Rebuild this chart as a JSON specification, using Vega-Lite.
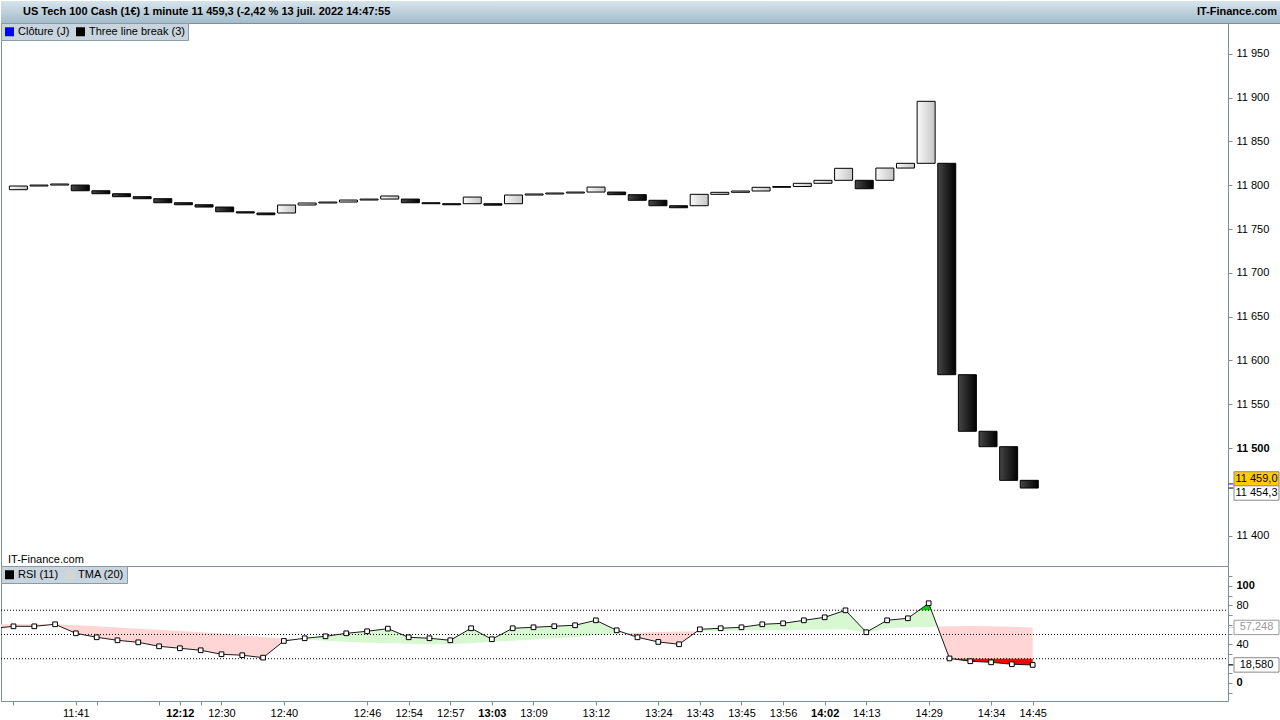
{
  "$schema": "https://vega.github.io/schema/vega-lite/v6.json",
  "padding": 0,
  "background": "#ffffff",
  "spacing": 0,
  "bounds": "flush",
  "config": {
    "font": "Liberation Sans",
    "view": {"stroke": "#7d8f9b", "strokeWidth": 1},
    "axis": {"labelFont": "Liberation Sans", "labelFontSize": 11, "labelColor": "#000000", "domainColor": "#7d8f9b", "tickColor": "#7d8f9b", "grid": false},
    "legend": {"labelFont": "Liberation Sans", "labelFontSize": 11, "labelColor": "#000000"}
  },
  "datasets": {
    "bricks": [
      {"i":1,"open":11794.9,"close":11799.1},{"i":2,"open":11799.1,"close":11800.2},{"i":3,"open":11800.2,"close":11801.4},
      {"i":4,"open":11800.2,"close":11793.7},{"i":5,"open":11793.7,"close":11790.3},{"i":6,"open":11790.3,"close":11786.9},
      {"i":7,"open":11786.9,"close":11784.6},{"i":8,"open":11784.6,"close":11780.0},{"i":9,"open":11780.0,"close":11777.7},
      {"i":10,"open":11777.7,"close":11775.1},{"i":11,"open":11775.1,"close":11769.7},{"i":12,"open":11769.7,"close":11768.3},
      {"i":13,"open":11768.3,"close":11766.3},{"i":14,"open":11768.3,"close":11777.4},{"i":15,"open":11777.4,"close":11779.7},
      {"i":16,"open":11779.7,"close":11780.8},{"i":17,"open":11780.8,"close":11783.1},{"i":18,"open":11783.1,"close":11784.2},
      {"i":19,"open":11784.2,"close":11787.7},{"i":20,"open":11784.2,"close":11780.0},{"i":21,"open":11780.0,"close":11778.9},
      {"i":22,"open":11778.9,"close":11777.7},{"i":23,"open":11778.9,"close":11786.5},{"i":24,"open":11778.9,"close":11777.2},
      {"i":25,"open":11778.9,"close":11788.8},{"i":26,"open":11788.8,"close":11790.0},{"i":27,"open":11790.0,"close":11791.1},
      {"i":28,"open":11791.1,"close":11792.2},{"i":29,"open":11792.2,"close":11797.9},{"i":30,"open":11792.2,"close":11789.2},
      {"i":31,"open":11789.2,"close":11782.8},{"i":32,"open":11782.8,"close":11776.6},{"i":33,"open":11776.6,"close":11774.3},
      {"i":34,"open":11776.6,"close":11789.6},{"i":35,"open":11789.6,"close":11791.9},{"i":36,"open":11791.9,"close":11793.4},
      {"i":37,"open":11793.4,"close":11797.6},{"i":38,"open":11797.6,"close":11798.5},{"i":39,"open":11798.5,"close":11802.2},
      {"i":40,"open":11802.2,"close":11805.6},{"i":41,"open":11805.6,"close":11819.3},{"i":42,"open":11805.6,"close":11796.0},
      {"i":43,"open":11805.6,"close":11819.6},{"i":44,"open":11819.6,"close":11825.0},{"i":45,"open":11825.0,"close":11895.8},
      {"i":46,"open":11825.0,"close":11583.7},{"i":47,"open":11583.7,"close":11519.1},{"i":48,"open":11519.1,"close":11501.5},
      {"i":49,"open":11501.5,"close":11463.1},{"i":50,"open":11463.1,"close":11454.3}
    ],
    "rsi": [
      {"i":0,"rsi":56.2},{"i":1,"rsi":58.4},{"i":2,"rsi":58.4},{"i":3,"rsi":60.5},{"i":4,"rsi":51.2},{"i":5,"rsi":47.1},
      {"i":6,"rsi":44.0},{"i":7,"rsi":41.9},{"i":8,"rsi":37.8},{"i":9,"rsi":35.8},{"i":10,"rsi":33.7},{"i":11,"rsi":29.6},
      {"i":12,"rsi":28.6},{"i":13,"rsi":26.1},{"i":14,"rsi":43.3},{"i":15,"rsi":46.1},{"i":16,"rsi":48.1},{"i":17,"rsi":51.2},
      {"i":18,"rsi":53.3},{"i":19,"rsi":56.0},{"i":20,"rsi":47.1},{"i":21,"rsi":46.1},{"i":22,"rsi":44.0},{"i":23,"rsi":56.4},
      {"i":24,"rsi":45.1},{"i":25,"rsi":56.4},{"i":26,"rsi":57.4},{"i":27,"rsi":58.5},{"i":28,"rsi":59.5},{"i":29,"rsi":64.6},
      {"i":30,"rsi":54.3},{"i":31,"rsi":47.1},{"i":32,"rsi":42.3},{"i":33,"rsi":39.9},{"i":34,"rsi":55.3},{"i":35,"rsi":56.4},
      {"i":36,"rsi":57.4},{"i":37,"rsi":60.5},{"i":38,"rsi":61.5},{"i":39,"rsi":64.6},{"i":40,"rsi":67.7},{"i":41,"rsi":74.9},
      {"i":42,"rsi":52.3},{"i":43,"rsi":64.6},{"i":44,"rsi":66.7},{"i":45,"rsi":82.2},{"i":46,"rsi":25.3},{"i":47,"rsi":22.4},
      {"i":48,"rsi":21.3},{"i":49,"rsi":19.3},{"i":50,"rsi":18.58}
    ],
    "fills": [
      {"seg":"p1","kind":"pink","i":0.4,"lo":57.0,"hi":60.6},{"seg":"p1","kind":"pink","i":1,"lo":58.4,"hi":60.6},
      {"seg":"p1","kind":"pink","i":2,"lo":58.4,"hi":60.6},{"seg":"p1","kind":"pink","i":3,"lo":60.5,"hi":60.6},
      {"seg":"p1","kind":"pink","i":4,"lo":51.2,"hi":59.6},{"seg":"p1","kind":"pink","i":5,"lo":47.1,"hi":58.4},
      {"seg":"p1","kind":"pink","i":6,"lo":44.0,"hi":57.2},{"seg":"p1","kind":"pink","i":7,"lo":41.9,"hi":56.0},
      {"seg":"p1","kind":"pink","i":8,"lo":37.8,"hi":54.8},{"seg":"p1","kind":"pink","i":9,"lo":35.8,"hi":53.6},
      {"seg":"p1","kind":"pink","i":10,"lo":33.7,"hi":52.3},{"seg":"p1","kind":"pink","i":11,"lo":29.6,"hi":51.0},
      {"seg":"p1","kind":"pink","i":12,"lo":28.6,"hi":49.0},{"seg":"p1","kind":"pink","i":13,"lo":26.1,"hi":47.5},
      {"seg":"p1","kind":"pink","i":14,"lo":43.3,"hi":46.2},{"seg":"p1","kind":"pink","i":14.64,"lo":45.1,"hi":45.1},
      {"seg":"g1","kind":"green","i":14.64,"lo":45.1,"hi":45.1},{"seg":"g1","kind":"green","i":15,"lo":46.1,"hi":44.5},
      {"seg":"g1","kind":"green","i":16,"lo":48.1,"hi":43.5},{"seg":"g1","kind":"green","i":17,"lo":51.2,"hi":42.5},
      {"seg":"g1","kind":"green","i":18,"lo":53.3,"hi":41.5},{"seg":"g1","kind":"green","i":19,"lo":56.0,"hi":41.0},
      {"seg":"g1","kind":"green","i":20,"lo":47.1,"hi":40.5},{"seg":"g1","kind":"green","i":21,"lo":46.1,"hi":40.0},
      {"seg":"g1","kind":"green","i":22,"lo":44.0,"hi":39.9},{"seg":"g1","kind":"green","i":23,"lo":56.4,"hi":41.0},
      {"seg":"g1","kind":"green","i":24,"lo":45.1,"hi":42.5},{"seg":"g1","kind":"green","i":25,"lo":56.4,"hi":43.5},
      {"seg":"g1","kind":"green","i":26,"lo":57.4,"hi":44.8},{"seg":"g1","kind":"green","i":27,"lo":58.5,"hi":46.0},
      {"seg":"g1","kind":"green","i":28,"lo":59.5,"hi":47.2},{"seg":"g1","kind":"green","i":29,"lo":64.6,"hi":49.5},
      {"seg":"g1","kind":"green","i":30,"lo":54.3,"hi":51.0},{"seg":"g1","kind":"green","i":30.41,"lo":51.3,"hi":51.3},
      {"seg":"p2","kind":"pink","i":30.41,"lo":51.3,"hi":51.3},{"seg":"p2","kind":"pink","i":31,"lo":47.1,"hi":51.8},
      {"seg":"p2","kind":"pink","i":32,"lo":42.3,"hi":52.5},{"seg":"p2","kind":"pink","i":33,"lo":39.9,"hi":53.0},
      {"seg":"p2","kind":"pink","i":33.87,"lo":53.3,"hi":53.3},
      {"seg":"g2","kind":"green","i":33.87,"lo":53.3,"hi":53.3},{"seg":"g2","kind":"green","i":34,"lo":55.3,"hi":53.3},
      {"seg":"g2","kind":"green","i":35,"lo":56.4,"hi":53.6},{"seg":"g2","kind":"green","i":36,"lo":57.4,"hi":54.0},
      {"seg":"g2","kind":"green","i":37,"lo":60.5,"hi":54.3},{"seg":"g2","kind":"green","i":38,"lo":61.5,"hi":54.6},
      {"seg":"g2","kind":"green","i":39,"lo":64.6,"hi":54.9},{"seg":"g2","kind":"green","i":40,"lo":67.7,"hi":55.1},
      {"seg":"g2","kind":"green","i":41,"lo":74.9,"hi":55.3},{"seg":"g2","kind":"green","i":42,"lo":52.3,"hi":52.0},
      {"seg":"g2","kind":"green","i":43,"lo":64.6,"hi":56.5},{"seg":"g2","kind":"green","i":44,"lo":66.7,"hi":57.2},
      {"seg":"g2","kind":"green","i":45,"lo":82.2,"hi":57.8},{"seg":"g2","kind":"green","i":45.42,"lo":58.1,"hi":58.1},
      {"seg":"p3","kind":"pink","i":45.42,"lo":58.1,"hi":58.1},{"seg":"p3","kind":"pink","i":46,"lo":25.3,"hi":58.6},
      {"seg":"p3","kind":"pink","i":47,"lo":22.4,"hi":58.8},{"seg":"p3","kind":"pink","i":48,"lo":21.3,"hi":58.5},
      {"seg":"p3","kind":"pink","i":49,"lo":19.3,"hi":57.9},{"seg":"p3","kind":"pink","i":50,"lo":18.58,"hi":57.25},
      {"seg":"b1","kind":"lime","i":44.535,"lo":75,"hi":75},{"seg":"b1","kind":"lime","i":45,"lo":82.2,"hi":75},
      {"seg":"b1","kind":"lime","i":45.127,"lo":75,"hi":75},
      {"seg":"r1","kind":"red","i":46.1,"lo":25,"hi":25},{"seg":"r1","kind":"red","i":47,"lo":22.4,"hi":25},
      {"seg":"r1","kind":"red","i":48,"lo":21.3,"hi":25},{"seg":"r1","kind":"red","i":49,"lo":19.3,"hi":25},
      {"seg":"r1","kind":"red","i":50,"lo":18.58,"hi":25}
    ],
    "levels": [{"level":25},{"level":50},{"level":75}],
    "tags": [
      {"panel":"main","style":"close","series":"Clôture (J)","label":"11 459,0","v":11459.0},
      {"panel":"main","style":"tlb","series":"Three line break (3)","label":"11 454,3","v":11454.3},
      {"panel":"rsi","style":"rsi","series":"RSI (11)","label":"18,580","v":18.58},
      {"panel":"rsi","style":"tma","series":"TMA (20)","label":"57,248","v":57.248}
    ]
  },
  "vconcat": [
    {
      "width": 1280,
      "height": 22,
      "view": {"stroke": "#7d8f9b"},
      "data": {"values": [{"left": "US Tech 100 Cash (1€) 1 minute 11 459,3 (-2,42 % 13 juil. 2022 14:47:55", "right": "IT-Finance.com"}]},
      "layer": [
        {
          "mark": {"type": "rect", "fill": {"gradient": "linear", "x1": 0, "y1": 0, "x2": 0, "y2": 1, "stops": [{"offset": 0, "color": "#d8e4ec"}, {"offset": 1, "color": "#a3bccb"}]}},
          "encoding": {"x": {"datum": 0, "type": "quantitative", "scale": {"domain": [0, 1]}, "axis": null}, "x2": {"datum": 1}}
        },
        {
          "mark": {"type": "text", "align": "left", "baseline": "middle", "dx": 22, "fontWeight": "bold", "fontSize": 11, "font": "Liberation Sans", "color": "#000000"},
          "encoding": {"x": {"datum": 0, "type": "quantitative", "axis": null}, "text": {"field": "left"}}
        },
        {
          "mark": {"type": "text", "align": "right", "baseline": "middle", "dx": -4, "fontWeight": "bold", "fontSize": 11, "font": "Liberation Sans", "color": "#000000"},
          "encoding": {"x": {"datum": 1, "type": "quantitative", "axis": null}, "text": {"field": "right"}}
        }
      ]
    },
    {
      "width": 1227,
      "height": 543,
      "view": {"stroke": "#7d8f9b"},
      "layer": [
        {
          "data": {"name": "bricks"},
          "transform": [{"filter": "datum.close > datum.open"}],
          "mark": {"type": "bar", "width": 18, "stroke": "#000000", "strokeWidth": 1, "fill": {"gradient": "linear", "x1": 0, "y1": 0, "x2": 1, "y2": 0, "stops": [{"offset": 0, "color": "#f8f8f8"}, {"offset": 1, "color": "#c6c6c6"}]}},
          "encoding": {
            "x": {"field": "i", "type": "quantitative", "scale": {"domain": [0.4, 59.39], "nice": false, "zero": false}, "axis": null},
            "y": {"field": "open", "type": "quantitative", "scale": {"domain": [11365.3, 11985.2], "nice": false, "zero": false},
                  "axis": {"orient": "right", "title": null, "values": [11400, 11500, 11550, 11600, 11650, 11700, 11750, 11800, 11850, 11900, 11950],
                           "labelExpr": "replace(format(datum.value, ','), ',', ' ')",
                           "labelFontWeight": {"condition": {"test": "datum.value == 11500", "value": "bold"}, "value": "normal"},
                           "tickSize": 4, "labelPadding": 4, "domain": false}},
            "y2": {"field": "close"}
          }
        },
        {
          "data": {"name": "bricks"},
          "transform": [{"filter": "datum.close < datum.open"}],
          "mark": {"type": "bar", "width": 18, "stroke": "#000000", "strokeWidth": 1, "fill": {"gradient": "linear", "x1": 0, "y1": 0, "x2": 1, "y2": 0, "stops": [{"offset": 0, "color": "#464646"}, {"offset": 1, "color": "#000000"}]}},
          "encoding": {
            "x": {"field": "i", "type": "quantitative"},
            "y": {"field": "open", "type": "quantitative"},
            "y2": {"field": "close"}
          }
        },
        {
          "data": {"values": [{"label": "IT-Finance.com"}]},
          "mark": {"type": "text", "align": "left", "baseline": "bottom", "dx": 2, "dy": -1, "fontSize": 11, "color": "#000000"},
          "encoding": {
            "x": {"datum": 0.4, "type": "quantitative"},
            "y": {"datum": 11365.3, "type": "quantitative"},
            "text": {"field": "label"}
          }
        },
        {
          "data": {"name": "tags"},
          "transform": [{"filter": "datum.panel == 'main'"}],
          "mark": {"type": "tick", "orient": "horizontal", "size": 5, "thickness": 1, "xOffset": 3, "opacity": 1},
          "encoding": {
            "x": {"value": "width"},
            "y": {"field": "v", "type": "quantitative"},
            "color": {"field": "series", "type": "nominal",
                      "scale": {"domain": ["Clôture (J)", "Three line break (3)"], "range": ["#0000ff", "#000000"]},
                      "legend": {"title": null, "orient": "top-left", "offset": 0, "direction": "horizontal", "padding": 3,
                                 "fillColor": "#c8d5de", "strokeColor": "#8a9ba7", "symbolType": "square", "symbolSize": 81,
                                 "symbolStrokeWidth": 0, "columnPadding": 5, "labelOffset": 3}}
          }
        },
        {
          "data": {"name": "tags"},
          "transform": [{"filter": "datum.style == 'close'"}],
          "encoding": {"y": {"field": "v", "type": "quantitative"}, "x": {"value": "width"}},
          "layer": [
            {"mark": {"type": "point", "shape": "M-1,-0.32L1,-0.32L1,0.32L-1,0.32Z", "size": 2025, "filled": true, "fill": "#ffcc00", "stroke": "#888888", "strokeWidth": 1, "opacity": 1, "xOffset": 28.5, "yOffset": -5}},
            {"mark": {"type": "text", "align": "center", "baseline": "middle", "fontSize": 11, "color": "#000000", "xOffset": 28.5, "yOffset": -5}, "encoding": {"text": {"field": "label"}}}
          ]
        },
        {
          "data": {"name": "tags"},
          "transform": [{"filter": "datum.style == 'tlb'"}],
          "encoding": {"y": {"field": "v", "type": "quantitative"}, "x": {"value": "width"}},
          "layer": [
            {"mark": {"type": "point", "shape": "M-1,-0.32L1,-0.32L1,0.32L-1,0.32Z", "size": 2025, "filled": true, "fill": "#ffffff", "stroke": "#888888", "strokeWidth": 1, "opacity": 1, "xOffset": 28.5, "yOffset": 5}},
            {"mark": {"type": "text", "align": "center", "baseline": "middle", "fontSize": 11, "color": "#000000", "xOffset": 28.5, "yOffset": 5}, "encoding": {"text": {"field": "label"}}}
          ]
        }
      ]
    },
    {
      "width": 1227,
      "height": 135,
      "view": {"stroke": "#7d8f9b"},
      "layer": [
        {
          "data": {"name": "fills"},
          "transform": [{"filter": "datum.kind == 'pink' || datum.kind == 'green'"}],
          "mark": {"type": "area", "opacity": 1},
          "encoding": {
            "x": {"field": "i", "type": "quantitative", "scale": {"domain": [0.4, 59.39], "nice": false, "zero": false},
                  "axis": {"orient": "bottom", "title": null, "domain": false, "tickSize": 4, "labelPadding": 2, "labelOverlap": false, "labelFlush": false,
                           "values": [1, 4, 5, 8, 9, 10, 11, 14, 18, 20, 22, 24, 26, 29, 32, 34, 36, 38, 40, 42, 45, 48, 50],
                           "labelExpr": "indexof([4,9,11,14,18,20,22,24,26,29,32,34,36,38,40,42,45,48,50], datum.value) >= 0 ? ['11:41','12:12','12:30','12:40','12:46','12:54','12:57','13:03','13:09','13:12','13:24','13:43','13:45','13:56','14:02','14:13','14:29','14:34','14:45'][indexof([4,9,11,14,18,20,22,24,26,29,32,34,36,38,40,42,45,48,50], datum.value)] : ''",
                           "labelFontWeight": {"condition": {"test": "datum.value == 9 || datum.value == 24 || datum.value == 40", "value": "bold"}, "value": "normal"}}},
            "y": {"field": "lo", "type": "quantitative", "scale": {"domain": [-18.6, 120.6], "nice": false, "zero": false},
                  "axis": {"orient": "right", "title": null, "domain": false, "tickSize": 4, "labelPadding": 4, "values": [-10, 0, 10, 20, 30, 40, 50, 60, 70, 80, 90, 100, 110], "labelExpr": "datum.value == 0 || datum.value == 40 || datum.value == 80 || datum.value == 100 ? datum.label : ''", "labelFontWeight": {"condition": {"test": "datum.value == 0 || datum.value == 100", "value": "bold"}, "value": "normal"}}},
            "y2": {"field": "hi"},
            "detail": {"field": "seg"},
            "fill": {"field": "kind", "type": "nominal", "scale": {"domain": ["pink", "green", "red", "lime"], "range": ["#ffd5d5", "#d8f8d2", "#ff0000", "#14c814"]}, "legend": null}
          }
        },
        {
          "data": {"name": "fills"},
          "transform": [{"filter": "datum.kind == 'red' || datum.kind == 'lime'"}],
          "mark": {"type": "area", "opacity": 1},
          "encoding": {
            "x": {"field": "i", "type": "quantitative"},
            "y": {"field": "lo", "type": "quantitative",
                  "axis": {"orient": "right", "title": null, "domain": false, "tickSize": 4, "labelPadding": 4, "values": [-10, 0, 10, 20, 30, 40, 50, 60, 70, 80, 90, 100, 110], "labelExpr": "datum.value == 0 || datum.value == 40 || datum.value == 80 || datum.value == 100 ? datum.label : ''", "labelFontWeight": {"condition": {"test": "datum.value == 0 || datum.value == 100", "value": "bold"}, "value": "normal"}}},
            "y2": {"field": "hi"},
            "detail": {"field": "seg"},
            "fill": {"field": "kind", "type": "nominal", "legend": null}
          }
        },
        {
          "data": {"name": "levels"},
          "mark": {"type": "rule", "color": "#000000", "strokeWidth": 1, "strokeDash": [1, 2], "clip": true},
          "encoding": {
            "x": {"datum": 0.4, "type": "quantitative"},
            "x2": {"datum": 59.39},
            "y": {"field": "level", "type": "quantitative",
                  "axis": {"orient": "right", "title": null, "domain": false, "tickSize": 4, "labelPadding": 4, "values": [-10, 0, 10, 20, 30, 40, 50, 60, 70, 80, 90, 100, 110], "labelExpr": "datum.value == 0 || datum.value == 40 || datum.value == 80 || datum.value == 100 ? datum.label : ''", "labelFontWeight": {"condition": {"test": "datum.value == 0 || datum.value == 100", "value": "bold"}, "value": "normal"}}}
          }
        },
        {
          "data": {"name": "rsi"},
          "mark": {"type": "line", "strokeWidth": 1, "color": "#1a1a1a", "clip": true},
          "encoding": {
            "x": {"field": "i", "type": "quantitative"},
            "y": {"field": "rsi", "type": "quantitative",
                  "axis": {"orient": "right", "title": null, "domain": false, "tickSize": 4, "labelPadding": 4, "values": [-10, 0, 10, 20, 30, 40, 50, 60, 70, 80, 90, 100, 110], "labelExpr": "datum.value == 0 || datum.value == 40 || datum.value == 80 || datum.value == 100 ? datum.label : ''", "labelFontWeight": {"condition": {"test": "datum.value == 0 || datum.value == 100", "value": "bold"}, "value": "normal"}}}
          }
        },
        {
          "data": {"name": "rsi"},
          "transform": [{"filter": "datum.i >= 1"}],
          "mark": {"type": "point", "shape": "square", "filled": true, "fill": "#ffffff", "stroke": "#000000", "strokeWidth": 1, "size": 22, "opacity": 1},
          "encoding": {
            "x": {"field": "i", "type": "quantitative"},
            "y": {"field": "rsi", "type": "quantitative",
                  "axis": {"orient": "right", "title": null, "domain": false, "tickSize": 4, "labelPadding": 4, "values": [-10, 0, 10, 20, 30, 40, 50, 60, 70, 80, 90, 100, 110], "labelExpr": "datum.value == 0 || datum.value == 40 || datum.value == 80 || datum.value == 100 ? datum.label : ''", "labelFontWeight": {"condition": {"test": "datum.value == 0 || datum.value == 100", "value": "bold"}, "value": "normal"}}}
          }
        },
        {
          "data": {"name": "tags"},
          "transform": [{"filter": "datum.panel == 'rsi'"}],
          "mark": {"type": "tick", "orient": "horizontal", "size": 5, "thickness": 1, "xOffset": 3, "opacity": 1},
          "encoding": {
            "x": {"value": "width"},
            "y": {"field": "v", "type": "quantitative",
                  "axis": {"orient": "right", "title": null, "domain": false, "tickSize": 4, "labelPadding": 4, "values": [-10, 0, 10, 20, 30, 40, 50, 60, 70, 80, 90, 100, 110], "labelExpr": "datum.value == 0 || datum.value == 40 || datum.value == 80 || datum.value == 100 ? datum.label : ''", "labelFontWeight": {"condition": {"test": "datum.value == 0 || datum.value == 100", "value": "bold"}, "value": "normal"}}},
            "color": {"field": "series", "type": "nominal",
                      "scale": {"domain": ["RSI (11)", "TMA (20)"], "range": ["#000000", "#d4d4d4"]},
                      "legend": {"title": null, "orient": "top-left", "offset": 0, "direction": "horizontal", "padding": 3,
                                 "fillColor": "#c8d5de", "strokeColor": "#8a9ba7", "symbolType": "square", "symbolSize": 81,
                                 "symbolStrokeWidth": 0, "columnPadding": 5, "labelOffset": 3}}
          }
        },
        {
          "data": {"name": "tags"},
          "transform": [{"filter": "datum.style == 'tma'"}],
          "encoding": {
            "y": {"field": "v", "type": "quantitative",
                  "axis": {"orient": "right", "title": null, "domain": false, "tickSize": 4, "labelPadding": 4, "values": [-10, 0, 10, 20, 30, 40, 50, 60, 70, 80, 90, 100, 110], "labelExpr": "datum.value == 0 || datum.value == 40 || datum.value == 80 || datum.value == 100 ? datum.label : ''", "labelFontWeight": {"condition": {"test": "datum.value == 0 || datum.value == 100", "value": "bold"}, "value": "normal"}}},
            "x": {"value": "width"}
          },
          "layer": [
            {"mark": {"type": "point", "shape": "M-1,-0.32L1,-0.32L1,0.32L-1,0.32Z", "size": 2025, "filled": true, "fill": "#ffffff", "stroke": "#9a9a9a", "strokeWidth": 1, "opacity": 1, "xOffset": 28.5}},
            {"mark": {"type": "text", "align": "center", "baseline": "middle", "fontSize": 11, "color": "#9a9a9a", "xOffset": 28.5}, "encoding": {"text": {"field": "label"}}}
          ]
        },
        {
          "data": {"name": "tags"},
          "transform": [{"filter": "datum.style == 'rsi'"}],
          "encoding": {
            "y": {"field": "v", "type": "quantitative",
                  "axis": {"orient": "right", "title": null, "domain": false, "tickSize": 4, "labelPadding": 4, "values": [-10, 0, 10, 20, 30, 40, 50, 60, 70, 80, 90, 100, 110], "labelExpr": "datum.value == 0 || datum.value == 40 || datum.value == 80 || datum.value == 100 ? datum.label : ''", "labelFontWeight": {"condition": {"test": "datum.value == 0 || datum.value == 100", "value": "bold"}, "value": "normal"}}},
            "x": {"value": "width"}
          },
          "layer": [
            {"mark": {"type": "point", "shape": "M-1,-0.32L1,-0.32L1,0.32L-1,0.32Z", "size": 2025, "filled": true, "fill": "#ffffff", "stroke": "#888888", "strokeWidth": 1, "opacity": 1, "xOffset": 28.5}},
            {"mark": {"type": "text", "align": "center", "baseline": "middle", "fontSize": 11, "color": "#000000", "xOffset": 28.5}, "encoding": {"text": {"field": "label"}}}
          ]
        }
      ]
    }
  ],
  "resolve": {"scale": {"x": "independent", "y": "independent", "color": "independent", "fill": "independent"}, "legend": {"color": "independent"}}
}
